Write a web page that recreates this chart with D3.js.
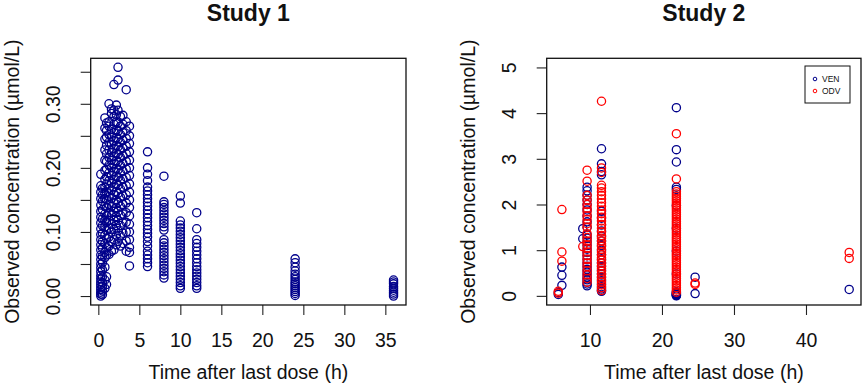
<!DOCTYPE html>
<html>
<head>
<meta charset="utf-8">
<script src="https://cdn.jsdelivr.net/npm/d3@7"></script>
<style>
	body { margin: 0; background: #fff; }
	text { font-family: "Liberation Sans", Arial, sans-serif; fill: #111; }
</style>
</head>
<body>
<div id="chart"></div>
<script>

///////////////////////////////////////////////////////////////////////////
//////////////////////////////// The data /////////////////////////////////
///////////////////////////////////////////////////////////////////////////

//Study 1 - sampling times (h) and the concentrations observed at each time
var s1Times = [0.3, 0.5, 0.8, 1.0, 1.3, 1.6, 1.9, 2.2, 2.4, 2.7, 3.0, 3.4, 3.8, 6, 8, 10, 12, 24, 36];
var s1Conc = [
	[0.000, 0.003, 0.006, 0.010, 0.014, 0.018, 0.022, 0.027, 0.032, 0.038, 0.044, 0.050, 0.057, 0.064, 0.072, 0.080, 0.088, 0.096, 0.105, 0.114, 0.123, 0.132, 0.142, 0.152, 0.162, 0.172, 0.190],
	[0.002, 0.008, 0.015, 0.021, 0.030, 0.041, 0.052, 0.062, 0.075, 0.085, 0.098, 0.110, 0.120, 0.135, 0.148, 0.158, 0.168],
	[0.012, 0.025, 0.045, 0.060, 0.068, 0.082, 0.095, 0.108, 0.118, 0.128, 0.140, 0.152, 0.160, 0.170, 0.182, 0.196, 0.212, 0.228, 0.245, 0.262, 0.278],
	[0.018, 0.030, 0.064, 0.075, 0.090, 0.102, 0.115, 0.125, 0.138, 0.150, 0.162, 0.175, 0.186, 0.198, 0.210, 0.222, 0.235, 0.248, 0.258, 0.270],
	[0.065, 0.078, 0.092, 0.106, 0.118, 0.130, 0.143, 0.155, 0.168, 0.180, 0.192, 0.204, 0.216, 0.228, 0.240, 0.252, 0.265, 0.272, 0.300],
	[0.070, 0.085, 0.100, 0.112, 0.126, 0.140, 0.152, 0.165, 0.176, 0.188, 0.200, 0.212, 0.224, 0.236, 0.248, 0.260, 0.285, 0.292],
	[0.072, 0.088, 0.104, 0.118, 0.132, 0.145, 0.158, 0.170, 0.182, 0.194, 0.206, 0.218, 0.230, 0.242, 0.255, 0.268, 0.280, 0.290, 0.330],
	[0.080, 0.095, 0.110, 0.124, 0.138, 0.150, 0.163, 0.175, 0.187, 0.199, 0.211, 0.223, 0.235, 0.247, 0.259, 0.272, 0.283, 0.298],
	[0.085, 0.102, 0.118, 0.132, 0.146, 0.160, 0.173, 0.185, 0.197, 0.209, 0.221, 0.233, 0.245, 0.257, 0.270, 0.290, 0.337, 0.357],
	[0.078, 0.094, 0.110, 0.126, 0.140, 0.154, 0.167, 0.180, 0.192, 0.204, 0.216, 0.228, 0.240, 0.252, 0.265, 0.280],
	[0.082, 0.098, 0.114, 0.128, 0.143, 0.156, 0.170, 0.183, 0.195, 0.207, 0.219, 0.231, 0.243, 0.255, 0.268, 0.282],
	[0.070, 0.086, 0.100, 0.115, 0.130, 0.145, 0.158, 0.172, 0.185, 0.198, 0.210, 0.222, 0.234, 0.246, 0.258, 0.272, 0.322],
	[0.047, 0.068, 0.076, 0.088, 0.100, 0.112, 0.125, 0.138, 0.150, 0.162, 0.175, 0.188, 0.200, 0.212, 0.225, 0.238, 0.250, 0.265],
	[0.046, 0.052, 0.058, 0.064, 0.070, 0.078, 0.085, 0.092, 0.098, 0.104, 0.110, 0.116, 0.122, 0.128, 0.134, 0.140, 0.146, 0.152, 0.158, 0.164, 0.170, 0.180, 0.190, 0.200, 0.225],
	[0.028, 0.033, 0.038, 0.043, 0.048, 0.053, 0.058, 0.063, 0.068, 0.073, 0.078, 0.083, 0.088, 0.103, 0.108, 0.113, 0.118, 0.123, 0.128, 0.133, 0.138, 0.143, 0.147, 0.187],
	[0.012, 0.016, 0.021, 0.026, 0.031, 0.036, 0.041, 0.046, 0.051, 0.056, 0.061, 0.066, 0.071, 0.076, 0.081, 0.086, 0.091, 0.096, 0.101, 0.106, 0.111, 0.117, 0.145, 0.156],
	[0.012, 0.016, 0.021, 0.026, 0.031, 0.036, 0.041, 0.046, 0.052, 0.058, 0.064, 0.070, 0.076, 0.082, 0.088, 0.105, 0.130],
	[0.001, 0.004, 0.007, 0.010, 0.013, 0.016, 0.019, 0.022, 0.026, 0.030, 0.034, 0.039, 0.045, 0.052, 0.058],
	[0.000, 0.003, 0.006, 0.009, 0.012, 0.015, 0.019, 0.022, 0.025]
];

//Study 2 - sampling times (h), VEN and ODV concentrations observed at each time
var s2Times = [5.6, 6.1, 9.0, 9.6, 11.6, 22.0, 24.6, 46.0];
var venConc = [
	[0.03, 0.07],
	[0.23, 0.45, 0.63],
	[1.25, 1.47],
	[0.22, 0.26, 0.30, 0.35, 0.40, 0.46, 0.52, 0.58, 0.65, 0.72, 0.80, 0.88, 0.95, 1.02, 1.10, 1.18, 1.26, 1.33, 1.50, 1.62, 1.75, 1.88, 2.00, 2.10, 2.20, 2.30, 2.38],
	[0.10, 0.12, 0.15, 0.20, 0.26, 0.33, 0.40, 0.48, 0.56, 0.64, 0.72, 0.80, 0.90, 1.00, 1.10, 1.20, 1.30, 1.42, 1.55, 1.70, 1.85, 2.65, 2.72, 2.89, 3.22],
	[0.00, 0.01, 0.02, 0.03, 0.04, 0.05, 0.07, 0.09, 0.48, 0.98, 1.48, 1.98, 2.33, 2.38, 2.93, 3.20, 4.12],
	[0.05, 0.41],
	[0.14]
];
var odvConc = [
	[0.06, 0.10],
	[0.76, 0.96, 1.89],
	[1.08],
	[0.30, 0.38, 0.46, 0.55, 0.64, 0.72, 0.80, 0.88, 0.96, 1.04, 1.12, 1.20, 1.28, 1.36, 1.50, 1.58, 1.67, 1.75, 1.84, 1.92, 2.00, 2.10, 2.20, 2.51, 2.75],
	[0.12, 0.18, 0.24, 0.30, 0.36, 0.42, 0.48, 0.54, 0.60, 0.66, 0.72, 0.78, 0.84, 0.90, 0.96, 1.02, 1.08, 1.14, 1.20, 1.26, 1.32, 1.40, 1.48, 1.56, 1.64, 1.72, 1.80, 1.88, 1.96, 2.04, 2.12, 2.20, 2.28, 2.36, 2.42, 2.70, 2.80, 4.26],
	[0.08, 0.13, 0.18, 0.23, 0.28, 0.33, 0.38, 0.43, 0.48, 0.53, 0.58, 0.63, 0.68, 0.73, 0.78, 0.83, 0.88, 0.93, 0.98, 1.03, 1.08, 1.13, 1.18, 1.23, 1.28, 1.33, 1.38, 1.43, 1.48, 1.53, 1.58, 1.63, 1.68, 1.73, 1.78, 1.83, 1.88, 1.93, 1.98, 2.03, 2.08, 2.13, 2.18, 2.23, 2.28, 2.56, 3.55],
	[0.25, 0.28],
	[0.82, 0.95]
];

//Axis ticks and labels
var s1XTicks = [0, 5, 10, 15, 20, 25, 30, 35];
var s1YTicks = [0, 0.05, 0.10, 0.15, 0.20, 0.25, 0.30, 0.35];
var s2XTicks = [10, 20, 30, 40];
var s2YTicks = [0, 1, 2, 3, 4, 5];
var seriesNames = ["VEN", "ODV"];

var xTitle = "Time after last dose (h)",
	yTitle = "Observed concentration (\u00B5mol/L)";

///////////////////////////////////////////////////////////////////////////
//////////////////////////// Set up the svg ///////////////////////////////
///////////////////////////////////////////////////////////////////////////

var width = 865,
	height = 386;

var navy = "#00008B",
	red = "#FF0000";

var fontSize = "19.5px";

var svg = d3.select("#chart")
	.append("svg")
	.attr("width", width)
	.attr("height", height);

//Turn a list of times + a list of lists of concentrations into points
function toPoints(times, conc) {
	var pts = [];
	times.forEach(function(t, i) {
		conc[i].forEach(function(c) { pts.push({t: t, c: c}); });
	});
	return pts;
}//toPoints

///////////////////////////////////////////////////////////////////////////
//////////////////////////// Draw one panel ///////////////////////////////
///////////////////////////////////////////////////////////////////////////

function drawPanel(p) {

	var x = d3.scaleLinear().domain(p.xDomain).range([p.left, p.right]);
	var y = d3.scaleLinear().domain(p.yDomain).range([p.bottom, p.top]);

	var g = svg.append("g");

	//Bottom axis
	var xAxisG = g.append("g")
		.attr("transform", "translate(0," + p.bottom + ")")
		.call(d3.axisBottom(x).tickValues(p.xTicks).tickSize(10).tickFormat(d3.format("d")));
	xAxisG.select(".domain").remove();
	xAxisG.selectAll(".tick line").style("stroke", "#222").style("stroke-width", 1.1);
	xAxisG.selectAll(".tick text")
		.attr("y", 42)
		.attr("dy", null)
		.style("font-size", fontSize)
		.style("fill", "#111");

	//Left axis, labels turned like in R
	var yAxisG = g.append("g")
		.attr("transform", "translate(" + p.left + ",0)")
		.call(d3.axisLeft(y).tickValues(p.yTicks).tickSize(10).tickFormat(p.yFormat));
	yAxisG.select(".domain").remove();
	yAxisG.selectAll(".tick line").style("stroke", "#222").style("stroke-width", 1.1);
	yAxisG.selectAll(".tick text")
		.attr("x", 0)
		.attr("y", 0)
		.attr("dy", null)
		.attr("text-anchor", "middle")
		.attr("transform", "translate(-31,0) rotate(-90)")
		.style("font-size", fontSize)
		.style("fill", "#111");

	//Axis titles
	g.append("text")
		.attr("x", (p.left + p.right)/2)
		.attr("y", 379)
		.attr("text-anchor", "middle")
		.style("font-size", fontSize)
		.text(xTitle);

	g.append("text")
		.attr("transform", "translate(" + (p.left - 72) + "," + ((p.top + p.bottom)/2) + ") rotate(-90)")
		.attr("text-anchor", "middle")
		.style("font-size", fontSize)
		.text(yTitle);

	//Panel title
	g.append("text")
		.attr("x", (p.left + p.right)/2)
		.attr("y", 21)
		.attr("text-anchor", "middle")
		.style("font-size", "23px")
		.style("font-weight", "bold")
		.text(p.title);

	//The observations, one series after the other
	p.series.forEach(function(s) {
		g.append("g").selectAll("circle")
			.data(s.points)
			.enter().append("circle")
			.attr("cx", function(d) { return x(d.t); })
			.attr("cy", function(d) { return y(d.c); })
			.attr("r", 4.1)
			.style("fill", "none")
			.style("stroke", s.color)
			.style("stroke-width", 1.3);
	});

	//Box around the plot region
	g.append("rect")
		.attr("x", p.left)
		.attr("y", p.top)
		.attr("width", p.right - p.left)
		.attr("height", p.bottom - p.top)
		.style("fill", "none")
		.style("stroke", "#111")
		.style("stroke-width", 1.3);

	return {x: x, y: y, g: g};
}//drawPanel

///////////////////////////////////////////////////////////////////////////
//////////////////////////// Study 1 & Study 2 ////////////////////////////
///////////////////////////////////////////////////////////////////////////

drawPanel({
	title: "Study 1",
	left: 90.7, right: 406, top: 58.3, bottom: 305,
	xDomain: [-0.93, 37.52],
	yDomain: [-0.014, 0.371],
	xTicks: s1XTicks,
	yTicks: s1YTicks,
	yFormat: function(d) { return Math.round(d*100) % 10 === 0 ? d3.format(".2f")(d) : ""; },
	series: [{points: toPoints(s1Times, s1Conc), color: navy}]
});

var p2 = drawPanel({
	title: "Study 2",
	left: 546.7, right: 861, top: 58.3, bottom: 305,
	xDomain: [3.99, 47.64],
	yDomain: [-0.2, 5.2],
	xTicks: s2XTicks,
	yTicks: s2YTicks,
	yFormat: d3.format("d"),
	series: [
		{points: toPoints(s2Times, venConc), color: navy},
		{points: toPoints(s2Times, odvConc), color: red}
	]
});

///////////////////////////////////////////////////////////////////////////
//////////////////////////////// Legend ///////////////////////////////////
///////////////////////////////////////////////////////////////////////////

var legend = p2.g.append("g")
	.attr("transform", "translate(805,66)");

legend.append("rect")
	.attr("width", 45)
	.attr("height", 37)
	.style("fill", "#fff")
	.style("stroke", "#111")
	.style("stroke-width", 1);

var legendItem = legend.selectAll(".legend-item")
	.data(seriesNames)
	.enter().append("g")
	.attr("class", "legend-item")
	.attr("transform", function(d,i) { return "translate(10," + (13 + i*12) + ")"; });

legendItem.append("circle")
	.attr("r", 1.8)
	.style("fill", "none")
	.style("stroke", function(d,i) { return i === 0 ? navy : red; })
	.style("stroke-width", 1);

legendItem.append("text")
	.attr("x", 7)
	.attr("dy", "0.35em")
	.style("font-size", "8.5px")
	.text(function(d) { return d; });

</script>
</body>
</html>
